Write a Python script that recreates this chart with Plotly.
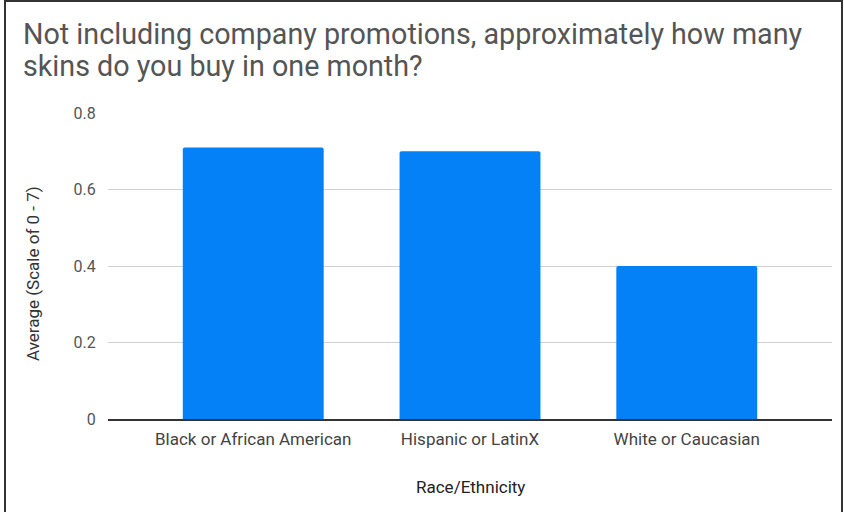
import plotly.graph_objects as go

# Survey averages by race/ethnicity
categories = ["Black or African American", "Hispanic or LatinX", "White or Caucasian"]
averages = [0.71, 0.70, 0.40]
y_ticks = [0, 0.2, 0.4, 0.6, 0.8]
y_tick_labels = ["0", "0.2", "0.4", "0.6", "0.8"]
title_lines = [
    "Not including company promotions, approximately how many",
    "skins do you buy in one month?",
]

W, H = 844, 512
L, R, T, B = 108, 12, 113, 93
pw, ph = W - L - R, H - T - B


def px_x(v):
    return (v - L) / pw


def px_y(v):
    return 1 - (v - T) / ph


fig = go.Figure(
    go.Bar(
        x=categories,
        y=averages,
        width=0.65,
        marker=dict(color="#0581F8", cornerradius=2, line=dict(width=0)),
        hoverinfo="x+y",
    )
)

# thin frame on the left, top and right edges of the image
frame = dict(color="#333333", width=2)
fig.add_shape(type="line", xref="paper", yref="paper",
              x0=px_x(5), x1=px_x(5), y0=px_y(0), y1=px_y(H), line=frame)
fig.add_shape(type="line", xref="paper", yref="paper",
              x0=px_x(5), x1=px_x(843), y0=px_y(1), y1=px_y(1), line=frame)
fig.add_shape(type="line", xref="paper", yref="paper",
              x0=px_x(842), x1=px_x(842), y0=px_y(0), y1=px_y(H), line=frame)

# two-line chart title
for line, yc in zip(title_lines, [34, 66]):
    fig.add_annotation(
        text=line, xref="paper", yref="paper",
        x=px_x(21), y=px_y(yc), xanchor="left", yanchor="middle",
        showarrow=False,
        font=dict(family="Roboto", size=28.7, color="#555555"),
    )

# axis titles
fig.add_annotation(
    text="Race/Ethnicity", xref="paper", yref="paper",
    x=px_x(470), y=px_y(487), xanchor="center", yanchor="middle",
    showarrow=False, font=dict(family="Roboto", size=17, color="#222222"),
)
fig.add_annotation(
    text="Average (Scale of 0 - 7)", xref="paper", yref="paper",
    x=px_x(33), y=px_y(274), xanchor="center", yanchor="middle",
    textangle=-90, showarrow=False,
    font=dict(family="Roboto", size=17, color="#333333"),
)

fig.update_layout(
    width=W,
    height=H,
    margin=dict(l=L, r=R, t=T, b=B),
    paper_bgcolor="white",
    plot_bgcolor="white",
    font=dict(family="Roboto", color="#444444"),
    showlegend=False,
)

fig.update_xaxes(
    range=[-0.67, 2.67],
    showgrid=False,
    showline=True,
    linecolor="#333333",
    linewidth=1.5,
    ticks="outside",
    ticklen=4,
    tickcolor="rgba(0,0,0,0)",
    tickfont=dict(size=17, color="#444444"),
    fixedrange=True,
)

fig.update_yaxes(
    range=[0, 0.8],
    tickvals=y_ticks,
    ticktext=y_tick_labels,
    showgrid=True,
    gridcolor="#D0D0D0",
    gridwidth=1,
    zeroline=False,
    showline=False,
    ticks="outside",
    ticklen=8,
    tickcolor="rgba(0,0,0,0)",
    tickfont=dict(size=16, color="#555555"),
    fixedrange=True,
)

fig.write_html("out.html")
